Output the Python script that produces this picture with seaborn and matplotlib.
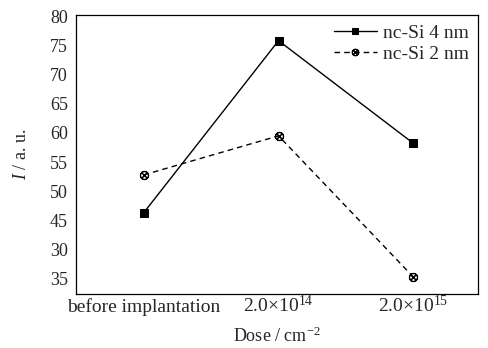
import numpy as np
import pandas as pd
import matplotlib
matplotlib.use("Agg")
import matplotlib.pyplot as plt
import seaborn as sns

# data
doses = ["before implantation", r"2.0$\times$10$^{14}$", r"2.0$\times$10$^{15}$"]
si4_nm = [46.3, 75.8, 58.2]
si2_nm = [52.8, 59.5, 35.3]
series_names = ["nc-Si 4 nm", "nc-Si 2 nm"]
y_ticks = [35, 40, 45, 50, 55, 60, 65, 70, 75, 80]
y_tick_labels = ["35", "30", "45", "50", "55", "60", "65", "70", "75", "80"]

sns.set_style("white")
plt.rcParams['font.family'] = ['Liberation Serif', 'DejaVu Serif']
plt.rcParams['mathtext.fontset'] = 'custom'
plt.rcParams['mathtext.rm'] = 'Liberation Serif'
plt.rcParams['mathtext.it'] = 'Liberation Serif:italic'

df = pd.DataFrame({
    "pos": list(range(len(doses))) * 2,
    "value": si4_nm + si2_nm,
    "series": [series_names[0]] * len(doses) + [series_names[1]] * len(doses),
})

fig, ax = plt.subplots(figsize=(4.88, 3.48), dpi=100)

sns.lineplot(
    data=df, x="pos", y="value", hue="series", style="series",
    palette=["black", "black"],
    markers={series_names[0]: "s", series_names[1]: r"$\otimes$"},
    dashes={series_names[0]: "", series_names[1]: (4, 3)},
    markersize=6, linewidth=1.0, markeredgecolor="black",
    ax=ax,
)

ax.set_xlim(-0.5, 2.48)
ax.set_ylim(32.4, 80.2)
ax.set_xticks(range(len(doses)))
ax.set_xticklabels(doses)
ax.set_yticks(y_ticks)
ax.set_yticklabels(y_tick_labels)
ax.tick_params(axis='x', direction='in', length=5, width=0.6, labelsize=14, pad=13)
ax.tick_params(axis='y', direction='out', length=5, width=0.6, labelsize=13, pad=1)
for lbl in ax.get_xticklabels():
    lbl.set_verticalalignment('baseline')

for sp in ax.spines.values():
    sp.set_color("black")
    sp.set_linewidth(0.9)

ax.set_xlabel(r"Dose / cm$^{-2}$", fontsize=13)
ax.xaxis.set_label_coords(0.5, -0.115)
ax.set_ylabel(r"$I$ / a. u.", fontsize=13)
ax.yaxis.set_label_coords(-0.115, 0.5)

leg = ax.legend(loc="upper right", frameon=False, fontsize=14,
                handlelength=2.2, handletextpad=0.3, borderaxespad=0.1,
                labelspacing=0.15, markerscale=0.8)

fig.subplots_adjust(left=0.156, right=0.98, top=0.957, bottom=0.155)
fig.savefig("out.png", dpi=100)
